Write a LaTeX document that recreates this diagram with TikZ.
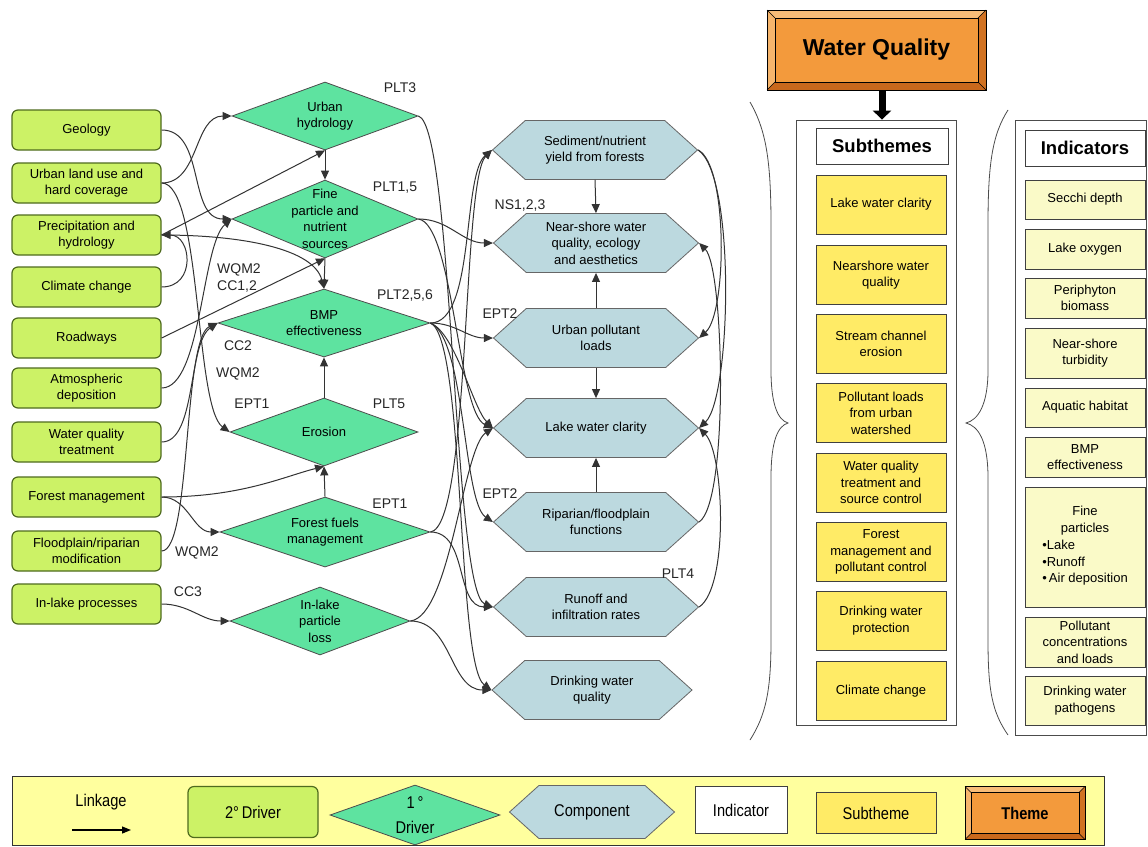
\documentclass[tikz,border=0pt]{standalone}
\usepackage{fontspec}
\setmainfont{Liberation Sans}
\newfontfamily\narrowfont[FakeStretch=0.86]{Liberation Sans}
\usetikzlibrary{shapes.geometric,shapes.symbols,arrows.meta,calc}

\definecolor{drvtwoC}{HTML}{CCF266}
\definecolor{drvtwoB}{HTML}{4F6B1E}
\definecolor{drvoneC}{HTML}{5EE3A0}
\definecolor{compC}{HTML}{BCD9DF}
\definecolor{subthC}{HTML}{FFEB66}
\definecolor{indicC}{HTML}{FAFAC8}
\definecolor{themeC}{HTML}{F39A3C}
\definecolor{themeL}{HTML}{F7BC78}
\definecolor{themeD}{HTML}{C9681C}
\definecolor{legbgC}{HTML}{FFFF9E}
\definecolor{lnkC}{HTML}{333333}

\newcommand{\bevelbox}[2]{%
 \fill[themeL] (#1.north west) -- (#1.north east) -- ($(#1.north east)+(-#2,#2)$) -- ($(#1.north west)+(#2,#2)$) -- cycle;
 \fill[themeL!80!themeC] (#1.north west) -- ($(#1.north west)+(#2,#2)$) -- ($(#1.south west)+(#2,-#2)$) -- (#1.south west) -- cycle;
 \fill[themeD] (#1.south west) -- ($(#1.south west)+(#2,-#2)$) -- ($(#1.south east)+(-#2,-#2)$) -- (#1.south east) -- cycle;
 \fill[themeD!80!themeC] (#1.south east) -- ($(#1.south east)+(-#2,-#2)$) -- ($(#1.north east)+(-#2,#2)$) -- (#1.north east) -- cycle;
 \draw[line width=0.9pt] (#1.north west) rectangle (#1.south east);
 \draw[line width=0.9pt] ($(#1.north west)+(#2,#2)$) rectangle ($(#1.south east)+(-#2,-#2)$);
 \draw[line width=0.5pt] (#1.north west) -- ++(#2,#2) (#1.north east) -- ++(-#2,#2) (#1.south west) -- ++(#2,-#2) (#1.south east) -- ++(-#2,-#2);
}

\begin{document}
\begin{tikzpicture}[x=1pt,y=-1pt,
 every node/.style={font=\fontsize{13}{16.5}\selectfont, align=center},
 drvtwo/.style={rectangle, rounded corners=6pt, draw=drvtwoB, line width=1.2pt, fill=drvtwoC, minimum width=149pt, minimum height=40pt, inner sep=1pt},
 drvone/.style={diamond, draw=black!70, line width=0.8pt, fill=drvoneC, inner xsep=-60pt, inner ysep=-40pt, minimum width=186pt, minimum height=68pt},
 compo/.style={signal, signal to=east and west, signal pointer angle=84, draw=black!60, line width=0.8pt, fill=compC, minimum width=205pt, minimum height=59pt, inner xsep=-20pt, inner ysep=-20pt},
 subbx/.style={rectangle, draw=black!75, line width=0.8pt, fill=subthC, minimum width=130pt, minimum height=59pt, inner sep=1pt},
 indbx/.style={rectangle, draw=black!75, line width=0.8pt, fill=indicC, minimum width=120pt, minimum height=40pt, inner sep=1pt},
 lab/.style={font=\fontsize{14}{17}\selectfont, text=black!85, inner sep=0pt},
 lk/.style={draw=lnkC, line width=1pt, -{Triangle[length=9pt,width=8pt]}},
 legf/.style={font=\narrowfont\fontsize{17}{19}\selectfont}
]
\useasboundingbox (0,0) rectangle (1148,846);
\fill[white] (0,0) rectangle (1148,846);

% ---- secondary drivers
\node[drvtwo] (geo) at (86.5,130) {Geology};
\node[drvtwo] (urb) at (86.5,183) {Urban land use and\\hard coverage};
\node[drvtwo] (pre) at (86.5,235) {Precipitation and\\hydrology};
\node[drvtwo] (cli) at (86.5,287) {Climate change};
\node[drvtwo] (road) at (86.5,338) {Roadways};
\node[drvtwo] (atm) at (86.5,388) {Atmospheric\\deposition};
\node[drvtwo] (wqt) at (86.5,442) {Water quality\\treatment};
\node[drvtwo] (fm) at (86.5,497) {Forest management};
\node[drvtwo] (flood) at (86.5,551) {Floodplain/riparian\\modification};
\node[drvtwo] (inl) at (86.5,604) {In-lake processes};

% ---- primary drivers
\node[drvone] (uh) at (325,116) {Urban\\hydrology};
\node[drvone, minimum height=78pt] (fp) at (325,219) {Fine\\particle and\\nutrient\\sources};
\node[drvone, minimum width=212pt] (bmp) at (324,323) {BMP\\effectiveness};
\node[drvone, minimum width=188pt] (ero) at (324,432) {Erosion};
\node[drvone, minimum width=210pt, minimum height=70pt] (ffm) at (325,532) {Forest fuels\\management};
\node[drvone, minimum width=180pt] (ilp) at (320,621) {In-lake\\particle\\loss};

% ---- components
\node[compo] (sed) at (595,150) {Sediment/nutrient\\yield from forests};
\node[compo] (ns) at (596,243) {Near-shore water\\quality, ecology\\and aesthetics};
\node[compo] (upl) at (596,338) {Urban pollutant\\loads};
\node[compo] (lwc) at (596,428) {Lake water clarity};
\node[compo] (rip) at (596,522) {Riparian/floodplain\\functions};
\node[compo] (roff) at (596,607) {Runoff and\\infiltration rates};
\node[compo, minimum width=200pt] (dwq) at (592,690) {Drinking water\\quality};

% ---- labels
\node[lab] (l1) at (400,88) {PLT3};
\node[lab] (l2) at (395,188) {PLT1,5};
\node[lab, align=left] (l3) at (239,278) {WQM2\\CC1,2};
\node[lab] (l4) at (405,296) {PLT2,5,6};
\node[lab] (l5) at (238,346) {CC2};
\node[lab] (l6) at (238,374) {WQM2};
\node[lab] (l7) at (252,404) {EPT1};
\node[lab] (l8) at (389,404) {PLT5};
\node[lab] (l9) at (390,504) {EPT1};
\node[lab] (l10) at (197,553) {WQM2};
\node[lab] (l11) at (188,592) {CC3};
\node[lab] (l12) at (520,206) {NS1,2,3};
\node[lab] (l13) at (500,314) {EPT2};
\node[lab] (l14) at (500,494) {EPT2};
\node[lab] (l15) at (678,574) {PLT4};

% ---- links: secondary -> primary
\draw[lk] (geo.east) to[out=0,in=180] (fp.west);
\draw[lk] (urb.east) to[out=0,in=180] (uh.west);
\draw[lk] (urb.east) .. controls +(40,0) and +(-35,-25) .. (ero.west);
\draw[lk] (pre.east) -- (uh.south);
\draw[lk] (pre.east) .. controls +(80,0) and +(-10,-40) .. (bmp.north);
\draw[lk] (cli.east) .. controls +(35,0) and +(30,0) .. (pre.east);
\draw[lk] (road.east) -- (fp.south);
\draw[lk] (atm.east) .. controls +(40,0) and +(-30,25) .. (fp.west);
\draw[lk] (wqt.east) .. controls +(35,0) and +(-30,20) .. (bmp.west);
\draw[lk] (flood.east) .. controls +(30,0) and +(-35,15) .. (bmp.west);
\draw[lk] (fm.east) .. controls +(80,0) and +(-40,10) .. (ero.south);
\draw[lk] (fm.east) to[out=0,in=180] (ffm.west);
\draw[lk] (inl.east) to[out=0,in=180] (ilp.west);
\draw[lk] (uh.south) -- (fp.north);
\draw[lk] (fp.south) -- (bmp.north);
\draw[lk] (ero.north) -- (bmp.south);
\draw[lk] (ffm.north) -- (ero.south);

% ---- links: primary -> components
\draw[lk] (uh.east) .. controls +(35,10) and +(-40,-15) .. (roff.west);
\draw[lk] (fp.east) to[out=0,in=180] (ns.west);
\draw[lk] (fp.east) .. controls +(35,5) and +(-35,-15) .. (lwc.west);
\draw[lk] (bmp.east) to[out=0,in=180] (upl.west);
\draw[lk] (bmp.east) .. controls +(25,10) and +(-20,-20) .. (lwc.west);
\draw[lk] (bmp.east) .. controls +(35,15) and +(-30,-20) .. (rip.west);
\draw[lk] (bmp.east) .. controls +(35,15) and +(-35,-25) .. (dwq.west);
\draw[lk] (bmp.east) .. controls +(45,0) and +(-30,25) .. (sed.west);
\draw[lk] (ffm.east) .. controls +(40,-5) and +(-30,30) .. (sed.west);
\draw[lk] (ffm.east) to[out=0,in=180] (roff.west);
\draw[lk] (ilp.east) .. controls +(40,-5) and +(-30,20) .. (lwc.west);
\draw[lk] (ilp.east) to[out=0,in=180] (dwq.west);

% ---- links among components
\draw[lk] (sed.south) -- (ns.north);
\draw[lk] (upl.north) -- (ns.south);
\draw[lk] (upl.south) -- (lwc.north);
\draw[lk] (rip.north) -- (lwc.south);
\draw[lk] (sed.east) .. controls +(30,15) and +(28,-25) .. (upl.east);
\draw[lk] (sed.east) .. controls +(38,25) and +(32,-30) .. (lwc.east);
\draw[lk] (rip.east) .. controls +(30,-20) and +(25,25) .. (ns.east);
\draw[lk] (roff.east) .. controls +(30,-20) and +(25,25) .. (lwc.east);

% ---- braces
\draw[line width=0.8pt, black!70] (750,102) .. controls (766,130) and (771,160) .. (771,225) -- (771,370) .. controls (771,405) and (778,420) .. (788,423) .. controls (778,426) and (771,440) .. (771,478) -- (771,640) .. controls (771,690) and (766,715) .. (750,740);
\draw[line width=0.8pt, black!70] (1008,110) .. controls (992,135) and (988,165) .. (988,225) -- (988,370) .. controls (988,405) and (978,420) .. (966,423) .. controls (978,426) and (988,440) .. (988,478) -- (988,640) .. controls (988,690) and (992,712) .. (1008,735);

% ---- theme
\node[rectangle, fill=themeC, minimum width=219pt, minimum height=80pt, outer sep=0pt, font=\bfseries\fontsize{23}{26}\selectfont] (theme) at (876.5,50) {Water Quality};
\bevelbox{theme}{8}

% ---- subthemes
\node[rectangle, draw=black!70, line width=0.8pt, fill=white, minimum width=160pt, minimum height=605pt] (subbox) at (876,422.5) {};
\node[rectangle, draw=black!75, line width=0.8pt, fill=white, minimum width=132pt, minimum height=36pt, font=\bfseries\fontsize{18.5}{20}\selectfont] (subhdr) at (882,146) {Subthemes};
\node[subbx] (s1) at (881,204.5) {Lake water clarity};
\node[subbx] (s2) at (881,275) {Nearshore water\\quality};
\node[subbx] (s3) at (881,344) {Stream channel\\erosion};
\node[subbx] (s4) at (881,413) {Pollutant loads\\from urban\\watershed};
\node[subbx] (s5) at (881,482.5) {Water quality\\treatment and\\source control};
\node[subbx] (s6) at (881,552) {Forest\\management and\\pollutant control};
\node[subbx] (s7) at (881,620.5) {Drinking water\\protection};
\node[subbx] (s8) at (881,691) {Climate change};
\draw[line width=7pt, -{Triangle[length=9pt,width=18pt]}] (theme.south -| subhdr.north) -- (subbox.north -| subhdr.north);

% ---- indicators
\node[rectangle, draw=black!70, line width=0.8pt, fill=white, minimum width=131pt, minimum height=615pt] (indbox) at (1080.5,427.5) {};
\node[rectangle, draw=black!75, line width=0.8pt, fill=white, minimum width=120pt, minimum height=36pt, font=\bfseries\fontsize{18.5}{20}\selectfont] (indhdr) at (1085,148) {Indicators};
\node[indbx, minimum height=39pt] (i1) at (1085,199.5) {Secchi depth};
\node[indbx] (i2) at (1085,249) {Lake oxygen};
\node[indbx] (i3) at (1085,298) {Periphyton\\biomass};
\node[indbx, minimum height=50pt] (i4) at (1085,353) {Near-shore\\turbidity};
\node[indbx, minimum height=39pt] (i5) at (1085,407.5) {Aquatic habitat};
\node[indbx] (i6) at (1085,457) {BMP\\effectiveness};
\node[indbx, minimum height=120pt] (i7) at (1085,547) {Fine\\particles\\[2pt]\begin{tabular}{@{}l@{}}\textbullet Lake\\\textbullet Runoff\\\textbullet\,Air deposition\end{tabular}};
\node[indbx, minimum height=50pt] (i8) at (1085,642) {Pollutant\\concentrations\\and loads};
\node[indbx, minimum height=49pt] (i9) at (1085,700.5) {Drinking water\\pathogens};

% ---- legend
\node[rectangle, draw=black!80, line width=1pt, fill=legbgC, minimum width=1092pt, minimum height=69pt, anchor=north west] (legend) at (12,776) {};
\node[legf] (lgtxt) at (101,802) {Linkage};
\coordinate (lga) at (72,830);
\coordinate (lgb) at (131,830);
\draw[line width=1.2pt, -{Triangle[length=9pt,width=7pt]}] (lga) -- (lgb);
\node[drvtwo, minimum width=130pt, minimum height=51pt, legf] (lg2) at (253,812) {2°\,Driver};
\node[drvone, minimum width=170pt, minimum height=60pt, legf] (lg1) at (415,815) {1\,°\\[6pt]Driver};
\node[compo, minimum width=165pt, minimum height=53pt, legf] (lgc) at (592,812) {Component};
\node[rectangle, draw=black!75, line width=0.8pt, fill=white, minimum width=92pt, minimum height=47pt, legf] (lgi) at (741,810) {Indicator};
\node[rectangle, draw=black!75, line width=0.8pt, fill=subthC, minimum width=120pt, minimum height=41pt, legf] (lgs) at (876,813) {Subtheme};
\node[rectangle, fill=themeC, minimum width=120pt, minimum height=53pt, outer sep=0pt, font=\narrowfont\bfseries\fontsize{17}{19}\selectfont] (lgt) at (1025,813) {Theme};
\bevelbox{lgt}{6}
\end{tikzpicture}
\end{document}
